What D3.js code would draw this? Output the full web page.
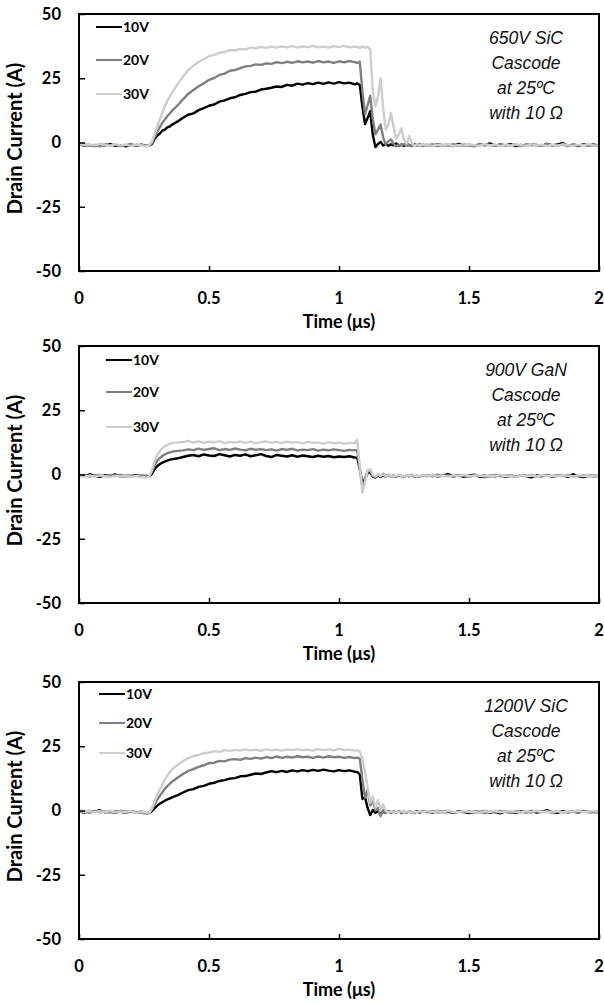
<!DOCTYPE html>
<html>
<head>
<meta charset="utf-8">
<script src="https://cdn.jsdelivr.net/npm/d3@7"></script>
<style>
  body { margin: 0; background: #fff; }
  svg { display: block; }
</style>
</head>
<body>
<div id="chart"></div>
<script>
// Drain current during turn-on / turn-off, three cascode devices,
// gate drive 10V / 20V / 30V. Values read off the scope captures.

// time samples (us), shared by every trace
var timeUs = [0,0.02,0.04,0.06,0.08,0.1,0.12,0.14,0.16,0.18,0.2,0.22,0.24,0.26,
  0.27,0.28,0.29,0.3,0.31,0.32,0.33,0.34,0.35,0.36,0.38,
  0.4,0.42,0.44,0.46,0.48,0.5,0.52,0.54,0.56,0.58,0.6,0.62,0.64,0.66,0.68,0.7,0.72,0.74,0.76,0.78,0.8,0.82,0.84,0.86,0.88,0.9,0.92,0.94,0.96,0.98,1,1.02,1.04,1.06,
  1.07,1.08,1.09,1.1,1.11,1.12,1.13,1.14,1.15,1.16,1.17,1.18,1.19,1.2,1.21,1.22,1.23,1.24,1.25,1.26,1.27,1.28,1.29,1.3,1.31,1.32,
  1.34,1.36,1.38,1.4,1.42,1.44,1.46,1.48,1.5,1.52,1.54,1.56,1.58,1.6,1.62,1.64,1.66,1.68,1.7,1.72,1.74,1.76,1.78,1.8,1.82,1.84,1.86,1.88,1.9,1.92,1.94,1.96,1.98,2];

// 650V SiC cascode
var sic650_10V = [-0.7,-1.2,-0.9,-1.4,-0.8,-1.1,-0.6,-1.3,-1.0,-1.5,-0.9,-1.2,-0.8,-1.3,
  -1.2,-0.6,1.2,2.6,3.4,4.6,5.0,5.9,6.3,7.1,8.2,
  9.6,10.8,11.3,12.6,13.4,14.3,14.8,15.9,16.4,17.2,17.6,18.5,18.9,19.6,19.8,20.6,20.9,21.3,21.8,21.6,22.4,22.1,22.9,22.5,23.1,22.7,23.3,22.8,23.4,22.9,23.5,23.0,23.3,22.6,
  23.0,22.4,14.0,7.2,9.5,12.2,3.0,-1.8,-0.6,0.2,-1.2,-0.5,-1.3,-0.7,-1.1,-0.4,-1.2,-0.8,-1.3,-0.6,-1.0,-1.4,-0.7,-1.1,-0.8,-1.2,
  -0.9,-1.3,-0.6,-1.1,-0.8,-1.4,-0.5,-1.2,-0.9,-1.3,-0.7,-1.0,-0.3,-1.2,-0.8,-1.1,-0.6,-1.4,-0.9,-1.2,-0.7,-1.0,-1.3,-0.5,-1.1,-0.8,-0.2,-1.2,-0.9,-1.4,-0.7,-1.1,-0.8,-1.2];
var sic650_20V = [-1.0,-0.6,-1.3,-0.9,-1.5,-0.7,-1.1,-0.8,-1.4,-1.0,-0.6,-1.2,-0.9,-1.4,
  -1.0,-0.2,2.0,4.0,5.8,7.6,8.9,10.3,11.4,12.6,14.5,
  16.8,18.9,20.4,21.9,23.0,24.4,25.1,26.3,26.8,27.9,28.2,28.9,29.6,29.8,30.4,30.2,30.8,30.6,31.3,30.9,31.4,31.0,31.6,31.2,31.5,31.1,31.7,31.2,31.5,31.0,31.6,31.2,31.7,31.3,
  31.0,31.4,20.0,11.0,14.5,18.2,9.0,3.2,5.0,7.0,2.0,-0.8,0.5,1.2,-0.6,-1.5,-0.8,-1.2,-0.6,-1.3,-0.9,-1.4,-0.7,-1.0,-1.2,-0.8,
  -1.1,-0.7,-1.4,-0.9,-1.2,-0.6,-1.3,-0.8,-1.0,-1.5,-0.7,-1.1,-0.9,-1.3,-0.6,-1.2,-1.0,-0.8,-1.4,-0.7,-1.1,-0.9,-1.3,-0.6,-1.0,-1.2,-0.8,-1.4,-0.7,-1.1,-0.9,-1.3,-1.0,-1.2];
var sic650_30V = [-0.4,-1.0,-0.7,-1.2,-0.5,-0.9,-1.3,-0.6,-1.1,-0.8,-1.4,-0.7,-1.0,-1.5,
  -1.1,0.2,3.0,6.0,8.8,11.5,14.0,16.2,18.0,19.8,22.8,
  25.6,28.1,29.8,31.4,32.4,33.6,34.1,34.9,35.2,35.9,35.8,36.4,36.2,36.9,36.6,37.2,36.8,37.3,36.9,37.4,37.0,37.5,36.9,37.4,37.1,37.6,37.0,37.3,36.9,37.5,37.1,37.6,37.0,37.3,
  37.2,36.8,37.4,36.9,37.1,36.4,20.0,14.0,18.0,25.0,13.0,5.0,7.0,11.5,6.0,1.5,3.0,5.5,1.0,-0.5,2.5,0.0,-1.5,-0.6,-1.2,-0.9,
  -1.0,-1.3,-0.8,-1.1,-0.6,-1.4,-0.9,-1.2,-0.7,-1.0,-1.3,-0.5,-1.1,-0.8,-1.4,-0.9,-1.2,-0.7,-1.0,-1.3,-0.6,-1.1,-0.9,-1.4,-0.8,-1.2,-0.7,-1.0,-1.3,-0.9,-1.1,-0.6,-1.2,-1.0];

// 900V GaN cascode
var gan900_10V = [-0.2,-0.7,0.1,-0.5,-0.9,-0.3,-0.6,0.0,-0.8,-0.4,-0.7,-0.2,-0.9,-0.5,
  -0.8,0.2,2.0,3.2,4.0,4.6,5.0,5.4,5.8,6.0,6.3,
  6.8,7.3,7.6,7.1,7.8,7.4,7.2,7.9,7.5,7.0,7.6,7.3,7.8,7.1,7.5,7.9,7.2,6.8,7.6,7.3,7.0,7.5,6.9,7.4,7.1,6.8,7.3,6.9,7.2,6.7,7.0,6.8,7.1,6.6,
  6.5,2.0,-3.5,-1.8,0.6,0.9,-0.8,-1.2,-0.4,-0.9,-0.3,-0.7,-0.2,-0.8,-0.5,-0.9,-0.3,-0.6,-1.0,-0.4,-0.7,-0.2,-0.8,-0.5,-0.9,-0.4,
  -0.6,-0.2,-0.8,-0.4,0.2,-0.7,-0.3,-0.9,-0.5,-0.1,-0.8,-1.0,-0.4,-0.7,-0.2,-0.9,-0.5,-0.8,-0.3,-0.6,-1.1,-0.4,-0.7,-0.2,-0.8,-0.5,-0.3,-0.9,0.1,-0.6,-1.0,-0.4,-0.7,-0.5];
var gan900_20V = [-0.5,-0.2,-0.8,-0.4,-0.1,-0.7,-0.3,-0.6,-0.2,-0.8,-0.4,-0.6,-0.3,-0.7,
  -0.6,1.0,3.5,5.2,6.3,7.2,7.8,8.3,8.6,8.9,9.2,
  9.4,9.8,9.5,10.1,9.6,9.9,10.2,9.5,9.9,9.6,10.1,9.7,9.4,10.0,9.6,9.9,9.5,9.8,9.3,9.9,9.6,10.0,9.4,9.7,9.5,9.9,9.3,9.7,9.4,9.8,9.5,9.2,9.6,9.4,
  9.5,2.5,-5.0,-2.0,1.5,1.8,-0.5,-1.0,-0.2,-0.8,0.3,-0.6,-0.1,-0.7,-0.3,-0.9,-0.2,-0.5,-0.8,-0.3,-0.6,-0.1,-0.7,-0.4,-0.8,-0.3,
  -0.3,-0.7,-0.1,-0.6,-0.4,-0.8,-0.2,-0.5,-0.9,-0.3,-0.6,-0.4,-0.8,-0.2,-0.7,-0.5,-0.3,-0.9,-0.4,-0.6,-0.2,-0.8,-0.5,-0.3,-0.7,-0.4,-0.6,-0.2,-0.8,-0.5,-0.3,-0.7,-0.4,-0.6];
var gan900_30V = [-0.6,-0.9,-0.4,-0.8,-0.3,-0.7,-1.0,-0.5,-0.8,-0.4,-0.9,-0.6,-1.0,-1.1,
  -0.9,1.5,5.0,7.5,9.0,10.2,11.0,11.6,12.0,12.3,12.5,
  12.6,13.1,12.4,12.9,12.3,12.8,12.5,13.0,12.2,12.7,12.4,12.9,12.3,12.8,12.1,12.6,12.9,12.3,12.7,12.2,12.8,12.4,12.6,12.1,12.7,12.3,12.5,12.0,12.6,12.2,12.4,11.9,12.3,12.1,
  13.5,3.0,-7.0,-3.0,1.5,2.0,-0.2,-0.8,0.2,-0.5,0.0,-0.6,-0.2,-0.8,-0.4,-0.7,-0.1,-0.5,-0.9,-0.3,-0.6,-0.2,-0.7,-0.4,-0.8,-0.3,
  -0.5,-0.2,-0.7,-0.4,-0.8,-0.3,-0.6,-0.1,-0.7,-0.5,-0.3,-0.8,-0.4,-0.6,-0.2,-0.7,-0.5,-0.9,-0.3,-0.6,-0.4,-0.8,-0.2,-0.6,-0.4,-0.7,-0.3,-0.5,-0.8,-0.2,-0.6,-0.4,-0.7,-0.3];

// 1200V SiC cascode
var sic1200_10V = [-0.3,-0.8,-0.2,-0.6,0.1,-0.7,-0.4,-0.9,-0.2,-0.6,-0.3,-0.8,-0.5,-1.0,
  -1.0,-0.3,0.8,1.8,2.6,3.2,3.8,4.3,4.7,5.2,6.0,
  7.0,7.9,8.3,9.2,9.6,10.4,10.8,11.5,11.8,12.4,12.6,13.3,13.4,13.9,14.4,14.2,14.8,15.3,14.9,15.4,15.0,15.6,15.2,15.7,15.3,15.8,15.4,15.9,15.5,15.2,15.7,15.3,15.6,15.1,
  15.0,14.0,4.5,5.2,1.0,-1.8,0.2,-0.9,-0.3,-1.0,-0.5,-0.8,-0.2,-0.9,-0.4,-0.7,-0.3,-1.0,-0.5,-0.8,-0.2,-0.9,-0.6,-0.3,-0.8,-0.5,
  -0.4,-0.8,-0.2,-0.7,-0.5,-0.9,-0.3,-0.6,-1.0,-0.4,-0.7,-0.2,-0.8,-0.5,-1.1,-0.3,-0.6,-0.9,-0.4,-0.7,-0.2,-0.8,-0.5,0.1,-0.6,-0.9,-0.3,-0.7,-0.4,-0.8,-0.2,-0.6,-0.5,-0.7];
var sic1200_20V = [-0.6,-0.3,-0.9,-0.2,-0.7,-0.4,-0.8,-0.3,-0.6,-1.0,-0.4,-0.7,-0.9,-1.2,
  -0.8,0.3,2.2,4.0,5.6,7.0,8.4,9.5,10.5,11.4,12.8,
  14.2,15.4,16.1,17.0,17.6,18.4,18.6,19.3,19.1,19.8,20.0,19.7,20.4,20.1,20.6,20.2,20.8,20.4,21.0,20.5,20.9,20.6,21.1,20.7,20.9,20.5,21.0,20.6,21.1,20.7,20.9,20.5,20.8,20.4,
  20.6,20.2,12.0,5.0,8.0,2.0,4.0,0.0,1.0,-2.2,0.2,-0.8,-0.3,-0.9,-0.4,-0.7,-0.2,-0.9,-0.5,-0.8,-0.3,-0.6,-1.0,-0.4,-0.7,-0.3,
  -0.7,-0.3,-0.8,-0.5,-0.2,-0.9,-0.4,-0.6,-0.3,-0.8,-0.5,-1.0,-0.4,-0.7,-0.2,-0.6,-0.9,-0.3,-0.7,-0.5,-0.8,-0.2,-0.6,-0.4,-0.9,-0.3,-0.7,-0.5,-0.2,-0.8,-0.4,-0.6,-0.3,-0.7];
var sic1200_30V = [0.0,-0.5,-0.2,-0.7,-0.3,-0.6,-0.1,-0.8,-0.4,-0.6,-0.2,-0.9,-0.5,-0.8,
  -0.9,0.8,3.2,5.8,8.0,10.0,12.0,13.6,15.0,16.2,17.8,
  19.2,20.4,21.2,21.6,22.3,22.5,23.1,22.8,23.5,23.2,23.6,23.3,23.8,23.4,23.7,23.2,23.9,23.4,23.7,23.3,23.8,23.5,23.9,23.4,23.7,23.3,23.9,23.5,23.8,23.4,24.0,23.5,23.7,23.3,
  23.5,23.0,20.0,15.0,9.0,3.0,5.5,1.0,4.0,0.0,2.5,-0.2,-0.8,-0.3,-0.9,-0.4,-0.6,-0.2,-0.8,-0.5,-0.3,-0.9,-0.4,-0.7,-0.2,-0.6,
  -0.2,-0.6,-0.3,-0.8,-0.1,-0.5,-0.7,-0.2,-0.6,-0.4,-0.9,-0.3,-0.5,-0.1,-0.7,-0.4,-0.2,-0.6,-0.8,-0.3,-0.5,-0.1,-0.7,-0.4,-0.6,-0.2,-0.8,-0.3,-0.5,0.0,-0.6,-0.4,-0.2,-0.5];

var seriesNames = ["10V", "20V", "30V"];
var seriesColors = ["#000000", "#7f7f7f", "#cdcdcd"];
var xTicks = [0, 0.5, 1, 1.5, 2];
var yTicks = [-50, -25, 0, 25, 50];

var panelSeries = [
  [sic650_10V, sic650_20V, sic650_30V],
  [gan900_10V, gan900_20V, gan900_30V],
  [sic1200_10V, sic1200_20V, sic1200_30V]
];
var panelNotes = [
  ["650V SiC", "Cascode", "at 25ºC", "with 10 Ω"],
  ["900V GaN", "Cascode", "at 25ºC", "with 10 Ω"],
  ["1200V SiC", "Cascode", "at 25ºC", "with 10 Ω"]
];

// layout
var svgWidth = 604, svgHeight = 1003;
var plotLeft = 79, plotWidth = 520, plotHeight = 257;
var panelTops = [14, 346, 682];
var legendX = [96, 106, 99];
var legendRows = [[13, 46, 80], [14, 46, 81], [12, 41, 71]];

var svg = d3.select("#chart")
  .append("svg")
  .attr("width", svgWidth)
  .attr("height", svgHeight);

var xScale = d3.scaleLinear().domain([0, 2]).range([0, plotWidth]);
var yScale = d3.scaleLinear().domain([-50, 50]).range([plotHeight, 0]);

var tickFont = "Lato, 'Open Sans', sans-serif";

panelSeries.forEach(function(seriesList, p) {
  var g = svg.append("g")
    .attr("transform", `translate(${plotLeft}, ${panelTops[p]})`);

  // traces, 10V underneath
  var line = d3.line()
    .x(function(d, i) { return xScale(timeUs[i]); })
    .y(function(d) { return yScale(d); });

  seriesList.forEach(function(vals, s) {
    g.append("path")
      .datum(vals)
      .attr("d", line)
      .attr("fill", "none")
      .attr("stroke", seriesColors[s])
      .attr("stroke-width", 2.4)
      .attr("stroke-linejoin", "round");
  });

  // inward ticks, labels drawn separately
  var bottomAxis = d3.axisBottom(xScale).tickValues(xTicks).tickSizeInner(-5).tickSizeOuter(0).tickFormat("");
  var leftAxis = d3.axisLeft(yScale).tickValues(yTicks).tickSizeInner(-6).tickSizeOuter(0).tickFormat("");

  g.append("g")
    .attr("transform", `translate(0, ${plotHeight})`)
    .call(bottomAxis)
    .call(function(a) { a.select(".domain").remove(); a.selectAll("line").attr("stroke-width", 1.5); });
  g.append("g")
    .call(leftAxis)
    .call(function(a) { a.select(".domain").remove(); a.selectAll("line").attr("stroke-width", 1.5); });

  // frame round the plot
  g.append("rect")
    .attr("width", plotWidth)
    .attr("height", plotHeight)
    .attr("fill", "none")
    .attr("stroke", "#000")
    .attr("stroke-width", 2);

  // tick labels
  g.selectAll(".xlab")
    .data(xTicks)
    .enter()
    .append("text")
    .attr("x", function(d) { return xScale(d); })
    .attr("y", plotHeight + 33)
    .attr("text-anchor", "middle")
    .style("font", "bold 16.5px " + tickFont)
    .text(function(d) { return d; });

  g.selectAll(".ylab")
    .data(yTicks)
    .enter()
    .append("text")
    .attr("x", -18)
    .attr("y", function(d) { return yScale(d); })
    .attr("dy", "0.36em")
    .attr("text-anchor", "end")
    .style("font", "bold 16.5px " + tickFont)
    .text(function(d) { return d; });

  // axis titles
  g.append("text")
    .attr("x", plotWidth / 2)
    .attr("y", plotHeight + 57)
    .attr("text-anchor", "middle")
    .style("font", "bold 18px " + tickFont)
    .text("Time (μs)");

  g.append("text")
    .attr("transform", `translate(${22 - plotLeft}, ${plotHeight / 2 - 4}) rotate(-90)`)
    .attr("text-anchor", "middle")
    .style("font", "bold 20px " + tickFont)
    .text("Drain Current (A)");

  // legend
  seriesNames.forEach(function(name, s) {
    var ly = legendRows[p][s];
    var lx = legendX[p] - plotLeft;
    g.append("line")
      .attr("x1", lx).attr("x2", lx + 26)
      .attr("y1", ly).attr("y2", ly)
      .attr("stroke", seriesColors[s])
      .attr("stroke-width", 2);
    g.append("text")
      .attr("x", lx + 27)
      .attr("y", ly)
      .attr("dy", "0.36em")
      .style("font", "bold 14px " + tickFont)
      .text(name);
  });

  // device note, top right
  panelNotes[p].forEach(function(txt, k) {
    g.append("text")
      .attr("x", 526 - plotLeft)
      .attr("y", 30 + k * 25)
      .attr("text-anchor", "middle")
      .style("font", "italic 17.5px 'Liberation Sans', Arial, sans-serif")
      .style("fill", "#111")
      .text(txt);
  });
});
</script>
</body>
</html>
